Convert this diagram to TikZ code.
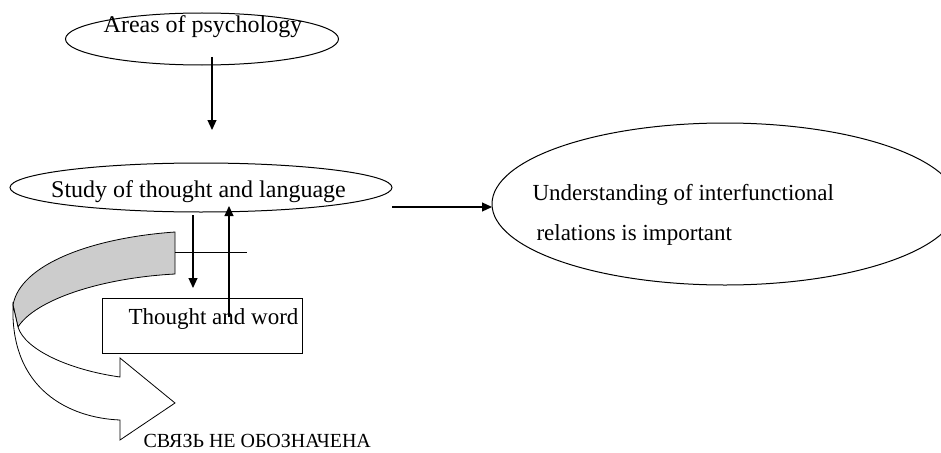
\documentclass[tikz,border=0pt]{standalone}
\usepackage{fontspec}
\setmainfont{Liberation Serif}
\usetikzlibrary{shapes.geometric,arrows.meta}
\begin{document}
\begin{tikzpicture}[x=1pt,y=-1pt,
  line width=1pt,
  arr/.style={-{Triangle[length=10pt,width=9pt]}, line width=1.2pt},
  ell/.style={draw, ellipse, inner sep=0pt},
  txt/.style={font=\fontsize{23}{40}\selectfont, inner sep=0pt},
  txtb/.style={font=\fontsize{24}{40}\selectfont, inner sep=0pt},
  ru/.style={font=\fontsize{20}{24}\selectfont, inner sep=0pt},
  boxst/.style={draw, rectangle, inner sep=0pt, anchor=north west},
  twist/.style={line width=0.8pt}
]
\useasboundingbox (0,0) rectangle (941,452);
\clip (0,0) rectangle (941,452);

% ellipses
\node[ell, minimum width=273pt, minimum height=52pt] (e1) at (202,39) {};
\node[txtb, anchor=base] (t1) at (203,33) {Areas of psychology};

\node[ell, minimum width=382pt, minimum height=49pt] (e2) at (201,187.5) {};
\node[txtb, anchor=base] (t2) at (198.5,197) {Study of thought and language};

\node[ell, minimum width=466pt, minimum height=162pt] (e3) at (725,204) {};
\node[txt, anchor=base west] (u1) at (532,200.7) {Understanding of interfunctional};
\node[txt, anchor=base west] (u2) at (536,240.7) {relations is important};

% box
\node[boxst, minimum width=200pt, minimum height=55pt] (box) at (102,298) {};
\node[txt, anchor=base west] (t4) at (128,324) {Thought and word};

% curved block arrow
\filldraw[twist, fill=gray!40] (175,232) .. controls (90,238) and (20,265) .. (13,305)
  -- (18,327) .. controls (35,300) and (100,278) .. (175,274) -- cycle;
\filldraw[twist, fill=white] (13,305) .. controls (10,390) and (70,418) .. (120,420)
  -- (120,440) -- (175,403) -- (120,358) -- (120,377)
  .. controls (70,370) and (25,350) .. (18,327) -- cycle;

\node[ru, anchor=base west] (t5) at (143,447) {СВЯЗЬ НЕ ОБОЗНАЧЕНА};

% connectors
\coordinate (a1s) at (212,57);
\coordinate (a1e) at (212,130);
\draw[arr] (a1s) -- (a1e);

\coordinate (a2s) at (193,215);
\coordinate (a2e) at (193,288);
\draw[arr] (a2s) -- (a2e);

\coordinate (a3s) at (229,317);
\coordinate (a3e) at (229,206);
\draw[arr] (a3s) -- (a3e);

\coordinate (h1) at (175,252);
\coordinate (h2) at (247,252);
\draw (h1) -- (h2);

\coordinate (a4s) at (392,207);
\coordinate (a4e) at (492,207);
\draw[arr] (a4s) -- (a4e);
\end{tikzpicture}
\end{document}
